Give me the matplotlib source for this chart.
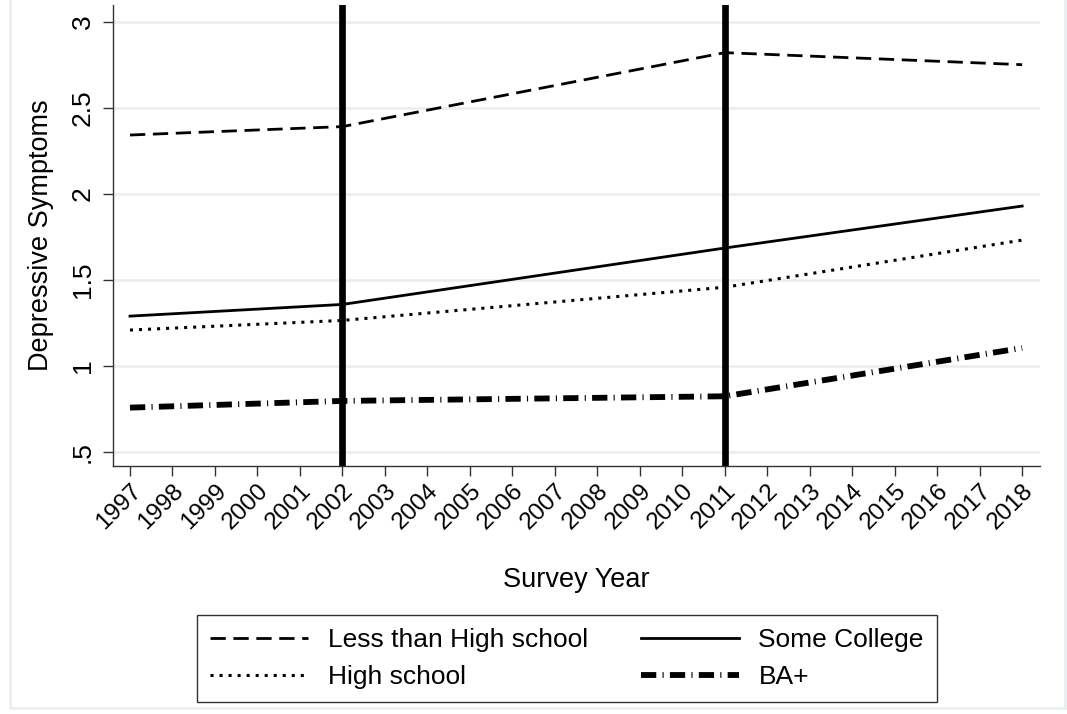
import matplotlib
matplotlib.use("Agg")
import matplotlib.pyplot as plt
from matplotlib.patches import Rectangle

plt.rcParams['font.family'] = ['Liberation Sans', 'DejaVu Sans']
plt.rcParams['lines.scale_dashes'] = False

# Segmented trends: knots at the start year, the two break years and the end year
years = [1997, 2002, 2011, 2018]
less_than_hs = [2.343, 2.392, 2.822, 2.752]
high_school = [1.209, 1.265, 1.458, 1.732]
some_college = [1.290, 1.358, 1.686, 1.930]
ba_plus = [0.758, 0.797, 0.824, 1.105]

break_years = [2002, 2011]
tick_years = list(range(1997, 2019))
y_ticks = [0.5, 1.0, 1.5, 2.0, 2.5, 3.0]
y_tick_labels = ['.5', '1', '1.5', '2', '2.5', '3']

W, H = 1067, 714
fig = plt.figure(figsize=(W / 100, H / 100), dpi=100)
fig.patch.set_facecolor('white')
# light outer graph-region border
fig.add_artist(Rectangle((10 / W, (H - 708) / H), 1055 / W, 720 / H,
                         transform=fig.transFigure, fill=False,
                         edgecolor='#e6eef0', linewidth=1.8))

ax = fig.add_axes([113 / W, (H - 466) / H, (1040 - 113) / W, (466 - 5) / H])

for yr in break_years:
    ax.axvline(yr, color='black', linewidth=4.8, zorder=2)

ax.plot(years, less_than_hs, color='black', linewidth=2.0,
        linestyle=(0, (11, 5.5)), label='Less than High school', zorder=3)
ax.plot(years, high_school, color='black', linewidth=2.2,
        linestyle=(0, (2.2, 4.3)), label='High school', zorder=3)
ax.plot(years, some_college, color='black', linewidth=2.0,
        linestyle='-', label='Some College', zorder=3)
ax.plot(years, ba_plus, color='black', linewidth=4.2,
        linestyle=(0, (11, 4.5, 0.8, 4.5)), label='BA+', zorder=3,
        solid_capstyle='butt', dash_capstyle='butt')

ax.set_xlim(1996.6, 2018.42)
ax.set_ylim(0.4186, 3.099)

ax.set_xticks(tick_years)
ax.set_xticklabels([str(y) for y in tick_years], rotation=45, ha='right',
                   va='top', rotation_mode='anchor', fontsize=17.5)

ax.set_yticks(y_ticks)
ax.set_yticklabels(y_tick_labels, rotation=90, va='center', fontsize=19)

ax.tick_params(axis='both', direction='out', length=7, width=1.0, color='#333333')
ax.tick_params(axis='x', pad=3)
ax.tick_params(axis='y', pad=6)

ax.grid(axis='y', color='#e6eef0', linewidth=1.8, zorder=0)
ax.set_axisbelow(True)

for side in ['top', 'right']:
    ax.spines[side].set_visible(False)
for side in ['left', 'bottom']:
    ax.spines[side].set_color('#333333')
    ax.spines[side].set_linewidth(1.0)

ax.set_xlabel('Survey Year', fontsize=19.5, labelpad=24)
ax.set_ylabel('Depressive Symptoms', fontsize=19.5, labelpad=12)

leg = fig.legend(loc='center', ncol=2, mode='expand',
                 bbox_to_anchor=(197 / W, (H - 702) / H, 740 / W, 87 / H),
                 bbox_transform=fig.transFigure, fontsize=19,
                 frameon=True, fancybox=False, edgecolor='black',
                 handlelength=3.7, handletextpad=0.75, columnspacing=1.6,
                 borderpad=0.5, labelspacing=0.5, borderaxespad=0)
leg.get_frame().set_linewidth(1.0)

fig.savefig('out.png', dpi=100, facecolor='white')
